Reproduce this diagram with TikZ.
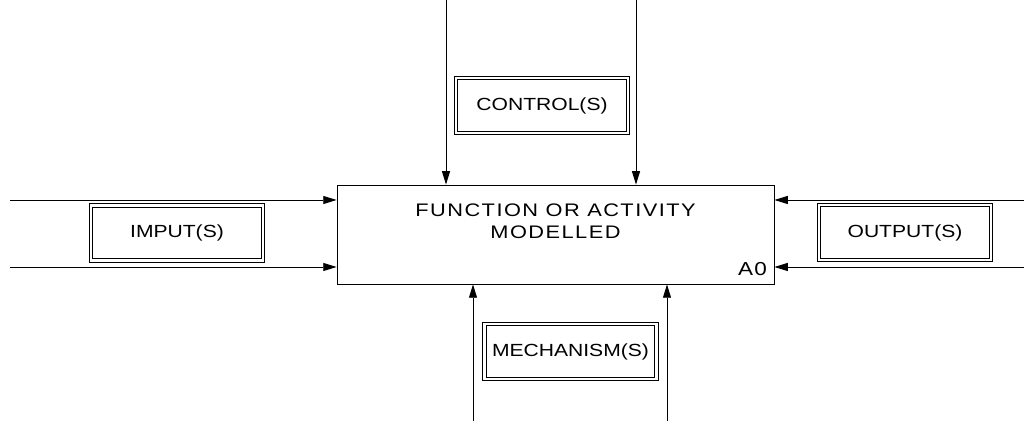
\documentclass[tikz,border=0pt]{standalone}
\usepackage{fontspec}
\setmainfont{Liberation Sans}[FakeStretch=1.2]
\usetikzlibrary{arrows.meta, positioning, calc}
\tikzset{
  % blocks
  func/.style    = {draw, line width=0.7pt, minimum width=13.11cm, minimum height=2.97cm,
                    inner sep=0pt},
  tag/.style     = {draw, line width=0.8pt, double=white, double distance=0.75mm,
                    minimum width=5.15cm, minimum height=1.65cm, inner sep=0pt,
                    font=\fontsize{15}{18}\selectfont},
  title/.style   = {align=center, inner sep=0pt,
                    font=\fontsize{15.5}{18.5}\selectfont\addfontfeature{LetterSpace=8}},
  boxid/.style   = {anchor=base east, inner sep=0pt,
                    font=\fontsize{16}{18}\selectfont\addfontfeature{LetterSpace=6}},
  % arrows
  flow/.style = {-{Triangle[length=4mm, width=2.4mm]}, line width=0.7pt},
}
\begin{document}
\begin{tikzpicture}[x=0.3mm, y=0.3mm]
\useasboundingbox (0,0) rectangle (1024,421);

% ---------- Activity box ----------
\node[func] (func) at (555.5,186.5) {};
\node[title] (functext) at ([yshift=-1.11cm]func.north)
  {FUNCTION OR ACTIVITY\\MODELLED};
\node[boxid] (funcid) at ([xshift=-2.2mm, yshift=2.7mm]func.south east) {A0};

% ---------- ICOM labels ----------
\node[tag] (ctrl) at (542,315.5) {CONTROL(S)};
\node[tag] (inp)  at (177,188)   {IMPUT(S)};
\node[tag] (outp) at (905,188.5) {OUTPUT(S)};
\node[tag] (mech) at (570.5,69.5) {MECHANISM(S)};

% ---------- Free ends ----------
\coordinate (ctrlA) at (446,421);
\coordinate (ctrlB) at (636,421);
\coordinate (inA)   at (10,221);
\coordinate (inB)   at (10,154);
\coordinate (outA)  at (1024,221);
\coordinate (outB)  at (1024,154);
\coordinate (mechA) at (473,0);
\coordinate (mechB) at (667,0);

% ---------- Flow: controls (top) ----------
\foreach \c in {ctrlA, ctrlB} {
  \draw[flow] (\c) -- (\c |- func.north);
}

% ---------- Flow: inputs (left) ----------
\foreach \c in {inA, inB} {
  \draw[flow] (\c) -- (\c -| func.west);
}

% ---------- Flow: outputs (right) ----------
\foreach \c in {outA, outB} {
  \draw[flow] (\c) -- (\c -| func.east);
}

% ---------- Flow: mechanisms (bottom) ----------
\foreach \c in {mechA, mechB} {
  \draw[flow] (\c) -- (\c |- func.south);
}

\end{tikzpicture}
\end{document}
